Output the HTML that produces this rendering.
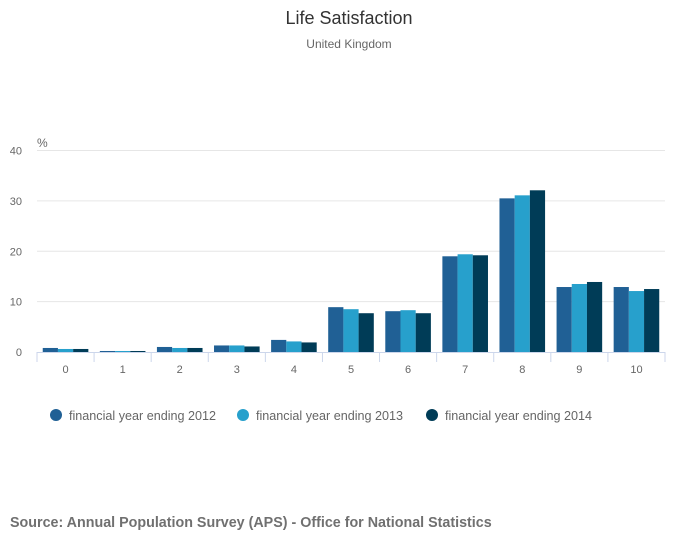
<!DOCTYPE html>
<html><head><meta charset="utf-8"><style>
body{margin:0;background:#fff;font-family:"Liberation Sans",sans-serif;}
svg text{font-family:"Liberation Sans",sans-serif;}
</style></head><body>
<svg id="c" width="700" height="549">
<text x="349" y="24" text-anchor="middle" font-size="18" fill="#333">Life Satisfaction</text>
<text x="349" y="48" text-anchor="middle" font-size="12" fill="#666">United Kingdom</text>
<text x="37" y="147" font-size="12" fill="#666">%</text>
<g id="grid"></g><g id="bars"></g><g id="xaxis"></g><g id="legend"></g>
<text x="10" y="527" font-size="14.3" font-weight="bold" fill="#707070">Source: Annual Population Survey (APS) - Office for National Statistics</text>
</svg>
<script>
const categories=["0","1","2","3","4","5","6","7","8","9","10"];
const series2012=[0.8,0.2,1.0,1.3,2.4,8.9,8.1,19.0,30.5,12.9,12.9];
const series2013=[0.6,0.2,0.8,1.3,2.1,8.5,8.3,19.4,31.1,13.5,12.1];
const series2014=[0.6,0.2,0.8,1.1,1.9,7.7,7.7,19.2,32.1,13.9,12.5];
const yTicks=[0,10,20,30,40];
const seriesNames=["financial year ending 2012","financial year ending 2013","financial year ending 2014"];
const colors=["#206095","#27a0cc","#003c57"];
const NS="http://www.w3.org/2000/svg";
const x0=37,x1=665,y0=352,yTop=150.5,yMax=40;
const slot=(x1-x0)/categories.length;
function y(v){return y0-(v/yMax)*(y0-yTop);}
function xc(i){return x0+slot*i+slot/2;}
function mk(t,a,p){const e=document.createElementNS(NS,t);for(const k in a)e.setAttribute(k,a[k]);p.appendChild(e);return e;}
const grid=document.getElementById('grid');
yTicks.forEach(t=>{
  if(t>0){const l=mk('line',{x1:x0,x2:x1,y1:y(t),y2:y(t),stroke:'#e6e6e6'},grid);
  
  }
  const tx=mk('text',{x:22,y:y(t)+4,'text-anchor':'end','font-size':11,fill:'#666'},grid);tx.textContent=t;
  
  
});
const bars=document.getElementById('bars');
const all=[series2012,series2013,series2014];
const bw=15.2;
categories.forEach((c,i)=>{
  all.forEach((s,j)=>{
    const bx=xc(i)-1.5*bw+j*bw;
    const r=mk('rect',{x:bx,y:y(s[i]),width:bw,height:y0-y(s[i]),fill:colors[j]},bars);
    
    
  });
});
const xa=document.getElementById('xaxis');
const ax=mk('line',{x1:x0,x2:x1,y1:y0+0.5,y2:y0+0.5,stroke:'#ccd6eb'},xa);


for(let i=0;i<=categories.length;i++){
  const tk=mk('line',{x1:x0+slot*i,x2:x0+slot*i,y1:y0,y2:y0+10,stroke:'#ccd6eb'},xa);
  
  
}
categories.forEach((c,i)=>{
  const t=mk('text',{x:xc(i),y:373,'text-anchor':'middle','font-size':11,fill:'#666'},xa);t.textContent=c;
  
  
});
const lg=document.getElementById('legend');
const lx=[56,243,432];
seriesNames.forEach((n,j)=>{
  const g=mk('g',{},lg);
  
  
  mk('circle',{cx:lx[j],cy:415,r:6,fill:colors[j]},g);
  const t=mk('text',{x:lx[j]+13,y:420,'font-size':12.6,fill:'#666'},g);t.textContent=n;
});
</script>
</body></html>
